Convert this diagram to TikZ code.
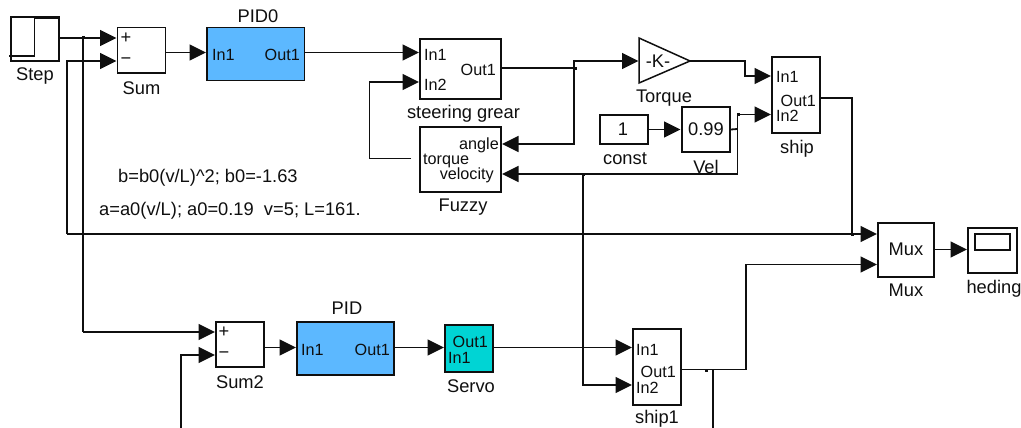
\documentclass[tikz,border=0pt]{standalone}
\usepackage{fontspec}
\setmainfont{Liberation Sans}
\usetikzlibrary{arrows.meta}
\definecolor{pidblue}{RGB}{92,184,255}
\definecolor{servoteal}{RGB}{0,212,212}
\definecolor{ink}{RGB}{15,15,15}
\tikzset{
  x=1pt,y=-1pt,
  blk/.style={draw=ink,line width=1.5pt,fill=white,inner sep=0pt},
  lbl/.style={font=\fontsize{18.3}{19}\selectfont,text=ink,inner sep=0pt},
  prt/.style={font=\fontsize{16.2}{17}\selectfont,text=ink,inner sep=0pt},
  wire/.style={draw=ink,line width=1.8pt},
  arr/.style={wire,-{Triangle[length=16.5pt,width=16pt]},shorten >=0pt},
  jun/.style={fill=ink,inner sep=0pt,minimum size=3pt,rectangle},
}
\begin{document}
\begin{tikzpicture}
\useasboundingbox (0,0) rectangle (1021,428);
% blocks
\node[blk,minimum width=48pt,minimum height=44pt] (step) at (35,39) {};
\node[blk,minimum width=48pt,minimum height=45.5pt] (sum) at (141.5,50.2) {};
\node[blk,fill=pidblue,minimum width=97.5pt,minimum height=53pt] (pid0) at (255.7,54) {};
\node[blk,minimum width=81pt,minimum height=60pt] (gear) at (460.5,69) {};
\node[blk,minimum width=81pt,minimum height=65pt] (fuzzy) at (460.5,159.5) {};
\node[blk,minimum width=48pt,minimum height=29pt] (const) at (624,129.5) {};
\node[blk,minimum width=48pt,minimum height=45pt] (vel) at (706,129.5) {};
\node[blk,minimum width=48pt,minimum height=76pt] (ship) at (796,95) {};
\node[blk,minimum width=56pt,minimum height=54pt] (mux) at (906,250) {};
\node[blk,minimum width=49pt,minimum height=45pt] (scope) at (992.5,250.5) {};
\node[blk,minimum width=48pt,minimum height=45pt] (sum2) at (240,344.5) {};
\node[blk,fill=pidblue,minimum width=97pt,minimum height=53pt] (pid) at (345.5,348.5) {};
\node[blk,fill=servoteal,minimum width=48pt,minimum height=47pt] (servo) at (469,348.5) {};
\node[blk,minimum width=48pt,minimum height=76pt] (ship1) at (657,367) {};
\draw[blk] (639,38) -- (690,61) -- (639,83) -- cycle;
% step icon and scope screen
\draw[wire] (9,56) -- (34.5,56) -- (34.5,18.5) -- (59,18.5);
\node[draw=ink,line width=1.5pt,inner sep=0pt,minimum width=35pt,minimum height=16pt] (screen) at (992.5,242) {};
% coordinates
\coordinate (a1) at (83,38);
\coordinate (sumA) at (116.5,38);
\coordinate (sumB) at (116.5,61);
\coordinate (sumOut) at (165.5,52.5);
\coordinate (pid0In) at (206,52.5);
\coordinate (pid0Out) at (304.5,52.5);
\coordinate (gearA) at (419,52.5);
\coordinate (gearB) at (419,82);
\coordinate (gearOut) at (501,68);
\coordinate (jTop) at (574,68);
\coordinate (tIn) at (638.5,61);
\coordinate (tOut) at (690,61);
\coordinate (shipA) at (771,76);
\coordinate (shipB) at (771,114.5);
\coordinate (shipOut) at (820,98);
\coordinate (jMux) at (852,234);
\coordinate (fAng) at (502,144);
\coordinate (fVel) at (502,174);
\coordinate (fTq) at (411,158.5);
\coordinate (jVel) at (737.5,129);
\coordinate (jBot) at (583,174);
\coordinate (muxA) at (877,234);
\coordinate (muxB) at (877,264.5);
\coordinate (muxOut) at (934,249.5);
\coordinate (scopeIn) at (967,249.5);
\coordinate (s2A) at (215,332);
\coordinate (s2B) at (215,355);
\coordinate (s2Out) at (264,347.5);
\coordinate (pidIn) at (296,347.5);
\coordinate (pidOut) at (394,347.5);
\coordinate (svIn) at (444,347.5);
\coordinate (svOut) at (493,347.5);
\coordinate (s1A) at (632,347.5);
\coordinate (s1B) at (632,385);
\coordinate (s1Out) at (681,369.5);
\coordinate (jOut) at (713,369.5);
\coordinate (fbEnd) at (713,428);
\coordinate (s2End) at (181,428);
% wires
\draw[arr] (step.east |- a1) -- (sumA);
\draw[wire] (a1) -- (83,332);
\draw[arr] (83,332) -- (s2A);
\draw[arr] (67,234) -- (67,61) -- (sumB);
\draw[arr] (67,234) -- (muxA);
\draw[arr] (sumOut) -- (pid0In);
\draw[arr] (pid0Out) -- (gearA);
\draw[arr] (fTq) -- (369.5,158.5) -- (369.5,82) -- (gearB);
\draw[wire] (gearOut) -- (jTop);
\draw[arr] (jTop) -- (574,61) -- (tIn);
\draw[arr] (jTop) -- (574,144) -- (fAng);
\draw[arr] (tOut) -- (745,61) -- (745,76) -- (shipA);
\draw[arr] (const.east) -- (680.5,129.5);
\draw[wire] (vel.east) -- (jVel);
\draw[arr] (jVel) -- (737.5,114.5) -- (shipB);
\draw[arr] (jVel) -- (737.5,174) -- (fVel);
\draw[arr] (jBot) -- (583,385) -- (s1B);
\draw[wire] (shipOut) -- (852,98) -- (jMux);
\draw[arr] (muxOut) -- (scopeIn);
\draw[arr] (s2End) -- (181,355) -- (s2B);
\draw[arr] (s2Out) -- (pidIn);
\draw[arr] (pidOut) -- (svIn);
\draw[arr] (svOut) -- (s1A);
\draw[arr] (s1Out) -- (746,369.5) -- (746,264.5) -- (muxB);
\draw[wire] (jOut) -- (fbEnd);
% junction marks
\node[jun] (j1) at (a1) {};
\node[jun] (j2) at (575.5,68.5) {};
\node[jun] (j3) at (jBot) {};
\node[jun] (j4) at (738,114.5) {};
\node[jun] (j5) at (jMux) {};
\node[jun] (j6) at (706,370) {};
% labels
\node[lbl] (tStep) at (35,76) {Step};
\node[lbl] (tSum) at (141.5,88) {Sum};
\node[lbl] (tPid0) at (258,16) {PID0};
\node[lbl] (tGear) at (463.5,113.5) {steering grear};
\node[lbl] (tFuzzy) at (463,207.5) {Fuzzy};
\node[lbl] (tTorque) at (664,98.5) {Torque};
\node[lbl] (tConst) at (625,159) {const};
\node[lbl] (tVel) at (706,166.5) {Vel};
\node[lbl] (tShip) at (797,148.5) {ship};
\node[lbl] (tMux) at (906,290) {Mux};
\node[lbl] (tHed) at (994,289) {heding};
\node[lbl] (tPid) at (347,308) {PID};
\node[lbl] (tSum2) at (240,382) {Sum2};
\node[lbl] (tServo) at (471,386.5) {Servo};
\node[lbl] (tShip1) at (657,419) {ship1};
\node[lbl,anchor=west] (tb) at (118,178) {b=b0(v/L)\^{}2; b0=-1.63};
\node[lbl,anchor=west] (ta) at (99,211) {a=a0(v/L); a0=0.19\ \ v=5; L=161.};
\node[lbl] (vK) at (658,61) {-K-};
\node[lbl] (vOne) at (623,129) {1};
\node[lbl] (vNine) at (706,129) {0.99};
\node[lbl] (vMux) at (906,249) {Mux};
\node[lbl] (pPlus) at (126,38) {+};
\node[lbl] (pMinus) at (126,61) {−};
\node[lbl] (pPlus2) at (224,332) {+};
\node[lbl] (pMinus2) at (224,355) {−};
% ports
\node[prt,anchor=west] (p1) at (212,54.5) {In1};
\node[prt,anchor=east] (p2) at (300,54.5) {Out1};
\node[prt,anchor=west] (p3) at (424,54.5) {In1};
\node[prt,anchor=west] (p4) at (424,84.5) {In2};
\node[prt,anchor=east] (p5) at (496,70) {Out1};
\node[prt,anchor=east] (p6) at (499,145.5) {angle};
\node[prt,anchor=west] (p7) at (423,160.5) {torque};
\node[prt,anchor=east] (p8) at (494,175.5) {velocity};
\node[prt,anchor=west] (p9) at (776,76.5) {In1};
\node[prt,anchor=east] (p10) at (816,100.5) {Out1};
\node[prt,anchor=west] (p11) at (776,115.5) {In2};
\node[prt,anchor=west] (p12) at (301,349.5) {In1};
\node[prt,anchor=east] (p13) at (390,349.5) {Out1};
\node[prt,anchor=east] (p14) at (488,341.5) {Out1};
\node[prt,anchor=west] (p15) at (448,357.5) {In1};
\node[prt,anchor=west] (p16) at (636,349.5) {In1};
\node[prt,anchor=east] (p17) at (676,371.5) {Out1};
\node[prt,anchor=west] (p18) at (636,387.5) {In2};
\end{tikzpicture}
\end{document}
